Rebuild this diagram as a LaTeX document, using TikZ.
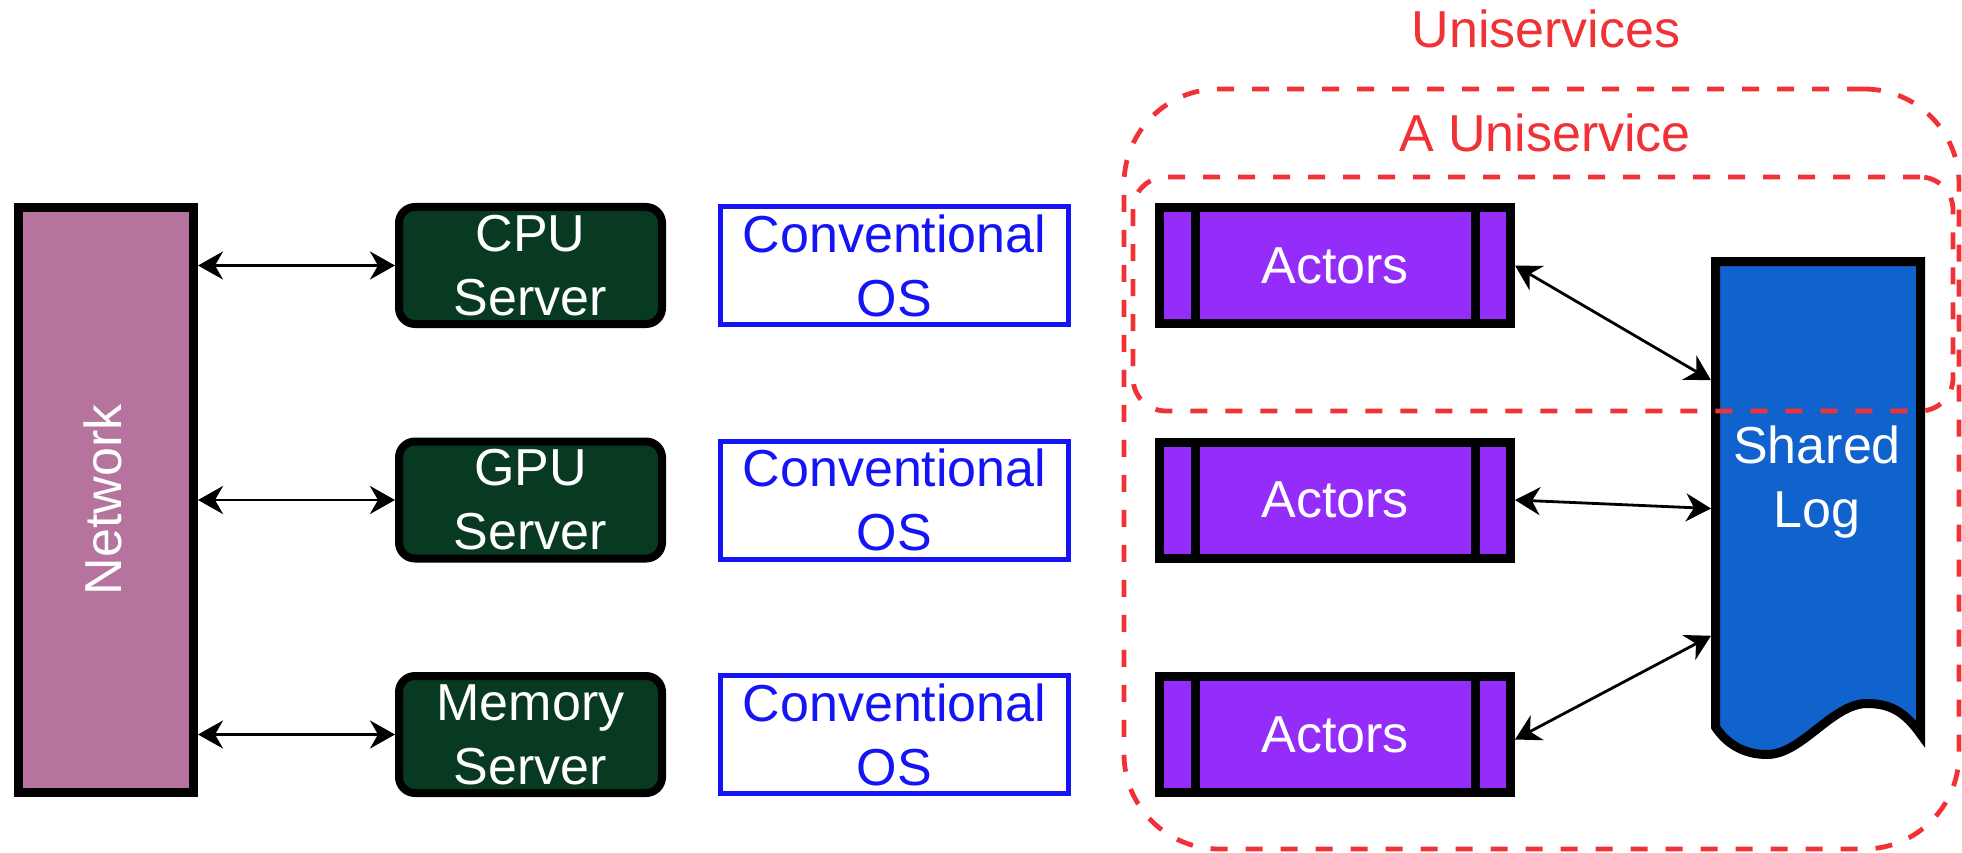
\documentclass[tikz,border=0pt]{standalone}
\usepackage{fontspec}
\setmainfont{Liberation Sans}
\usetikzlibrary{arrows.meta,calc}
\definecolor{netfill}{RGB}{181,115,157}
\definecolor{srvfill}{RGB}{7,58,33}
\definecolor{osblue}{RGB}{20,20,245}
\definecolor{actfill}{RGB}{149,45,250}
\definecolor{logfill}{RGB}{16,98,204}
\definecolor{unired}{RGB}{240,50,55}
\begin{document}
\begin{tikzpicture}[x=1pt,y=-1pt,
  every node/.style={font=\fontsize{52}{64}\selectfont, inner sep=0pt},
  netbox/.style={draw=black, line width=9pt, fill=netfill,
    minimum width=175pt, minimum height=585pt},
  srvbox/.style={draw=black, line width=8pt, fill=srvfill, rounded corners=16pt,
    minimum width=263pt, minimum height=117pt, text=white, align=center},
  osbox/.style={draw=osblue, line width=5pt, fill=white,
    minimum width=348pt, minimum height=118pt, text=osblue, align=center},
  actbox/.style={draw=black, line width=9pt, fill=actfill,
    minimum width=351pt, minimum height=116pt, text=white},
  divider/.style={line width=9pt},
  logshape/.style={draw=black, line width=9pt, fill=logfill, line join=miter},
  groupbox/.style={draw=unired, line width=4.8pt, dash pattern=on 17pt off 18pt},
  grouptitle/.style={text=unired, anchor=base},
  biarrow/.style={line width=2.8pt,
    arrows={Stealth[length=25pt,width=28pt,inset=8pt]-Stealth[length=25pt,width=28pt,inset=8pt]}}
]
\useasboundingbox (0,0) rectangle (1962,853);

% outer container of all uniservices
\node[groupbox, rounded corners=95pt, minimum width=835pt, minimum height=760pt] (unis) at (1541.5,469) {};

% network column
\node[netbox] (net) at (106,500) {};
\node[text=white, rotate=90] (nettext) at (103,500) {Network};

% servers
\node[srvbox] (cpu) at (530.5,265.5) {CPU\\Server};
\node[srvbox] (gpu) at (530.5,500) {GPU\\Server};
\node[srvbox] (mem) at (530.5,734.5) {Memory\\Server};

% operating systems
\node[osbox] (os1) at (894.5,265.5) {Conventional\\OS};
\node[osbox] (os2) at (894.5,500) {Conventional\\OS};
\node[osbox] (os3) at (894.5,734.5) {Conventional\\OS};

% actor groups
\foreach \n/\y in {act1/265.5, act2/500, act3/734.5}{
  \node[actbox] (\n) at (1335,\y) {Actors};
  \draw[divider] ([xshift=-140pt]\n.north) -- ([xshift=-140pt]\n.south);
  \draw[divider] ([xshift=140pt]\n.north) -- ([xshift=140pt]\n.south);
}

% shared log (document shape with wavy bottom)
\node[minimum width=214pt, minimum height=503pt, outer sep=0pt] (log) at (1818,508.5) {};
\draw[logshape] (1715.5,261.5) -- (1920.5,261.5) -- (1920.5,734)
  .. controls (1905,712) and (1890,703.5) .. (1867,703.5)
  .. controls (1832,703.5) and (1802,754.5) .. (1767,754.5)
  .. controls (1743,754.5) and (1726,743) .. (1715.5,727) -- cycle;
\node[text=white, align=center] (logtext) at (1817,482) {Shared\\Log};

% a single uniservice
\node[groupbox, rounded corners=33pt, minimum width=820pt, minimum height=234pt] (oneuni) at (1543,294) {};

% titles
\node[grouptitle] (unistitle) at (1546,48) {Uniservices};
\node[grouptitle] (onetitle) at (1545,152) {A Uniservice};

% network links
\draw[biarrow] (net.east |- cpu.west) -- (cpu.west);
\draw[biarrow] (net.east |- gpu.west) -- (gpu.west);
\draw[biarrow] (net.east |- mem.west) -- (mem.west);

% log links
\draw[biarrow] (act1.east) -- ($(log.north west)!0.245!(log.south west)$);
\draw[biarrow] (act2.east) -- ($(log.north west)!0.5!(log.south west)$);
\draw[biarrow] ([yshift=-5pt]act3.east) -- ($(log.north west)!0.753!(log.south west)$);
\end{tikzpicture}
\end{document}
